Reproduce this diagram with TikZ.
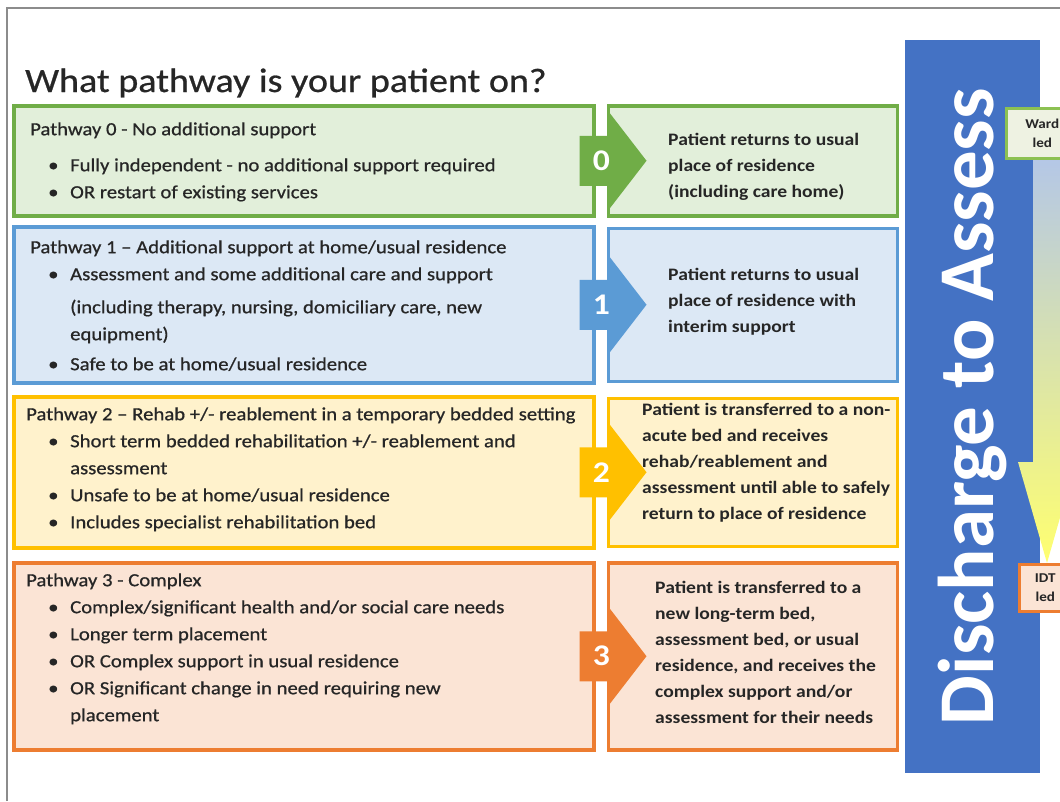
\documentclass[tikz,border=0pt]{standalone}
\usepackage{fontspec}
\setmainfont[FakeStretch=1.12, UprightFeatures={FakeBold=0.7}]{Carlito}
\newfontfamily\dtafont{Carlito}
\usetikzlibrary{positioning, calc}

\definecolor{pgreen}{HTML}{70AD47}
\definecolor{pgreenl}{HTML}{E2EFDA}
\definecolor{pblue}{HTML}{5B9BD5}
\definecolor{pbluel}{HTML}{DCE8F5}
\definecolor{pyellow}{HTML}{FFC000}
\definecolor{pyellowl}{HTML}{FFF2CC}
\definecolor{porange}{HTML}{ED7D31}
\definecolor{porangel}{HTML}{FBE4D5}
\definecolor{dtablue}{HTML}{4472C4}
\definecolor{wardgreen}{HTML}{8CC152}
\definecolor{wardfill}{HTML}{EEF2E2}
\definecolor{gradtop}{HTML}{B4C7E7}
\definecolor{gradbot}{HTML}{FFFF70}
\definecolor{txtgray}{HTML}{262626}
\definecolor{framegray}{HTML}{8C8C8C}

\newcommand{\bul}{\makebox[22pt][l]{\textbullet}}

\begin{document}
\begin{tikzpicture}[
  x=1pt, y=-1pt,
  lbox/.style = {draw, line width=3.5pt, minimum width=580, anchor=north west, inner sep=0pt},
  rbox/.style = {draw, line width=3.5pt, minimum width=289, inner sep=0pt},
  ltxt/.style = {anchor=north west, inner sep=0pt, align=left, text=txtgray,
                 font=\fontsize{18.5}{27}\selectfont},
  rtxt/.style = {anchor=north west, inner sep=0pt, align=left, text=txtgray,
                 font=\fontsize{17.5}{26}\selectfont\bfseries},
  numtxt/.style = {text=white, inner sep=0pt, font=\fontsize{30}{30}\selectfont\bfseries},
  ledbox/.style = {draw, line width=2.5pt, align=center, inner sep=0pt, anchor=north west,
                   text=txtgray, font=\fontsize{13.5}{19}\selectfont\bfseries}
]
\useasboundingbox (0,0) rectangle (1060,801);
\clip (0,0) rectangle (1060,801);

% Frame
\draw[framegray, line width=1.2pt] (7,801) -- (7,8) -- (1060,8);

% Title
\node[anchor=base west, inner sep=0pt, text=txtgray, font=\fontsize{34}{34}\selectfont]
  (title) at (25,92) {What pathway is your patient on?};

% Pathway boxes (left)
\node[lbox, draw=pgreen, fill=pgreenl, minimum height=110] (p0box) at (12,104) {};
\node[lbox, draw=pblue, fill=pbluel, minimum height=156] (p1box) at (12,225) {};
\node[lbox, draw=pyellow, fill=pyellowl, minimum height=151] (p2box) at (12,395) {};
\node[lbox, draw=porange, fill=porangel, minimum height=187] (p3box) at (12,561) {};

% Outcome boxes (right)
\node[rbox, draw=pgreen, fill=pgreenl, minimum height=110, right=11pt of p0box] (p0out) {};
\node[rbox, draw=pblue, fill=pbluel, minimum height=153, right=11pt of p1box] (p1out) {};
\node[rbox, draw=pyellow, fill=pyellowl, minimum height=148, right=11pt of p2box] (p2out) {};
\node[rbox, draw=porange, fill=porangel, minimum height=187, right=11pt of p3box] (p3out) {};

% Numbered arrows
\foreach \b/\c/\n in {p0box/pgreen/0, p1box/pblue/1, p2box/pyellow/2, p3box/porange/3} {
  \fill[\c] ($(\b.east)+(-16,-25)$) -- ($(\b.east)+(14,-25)$) -- ($(\b.east)+(14,-48)$)
    -- ($(\b.east)+(51,0)$) -- ($(\b.east)+(14,48)$) -- ($(\b.east)+(14,25)$)
    -- ($(\b.east)+(-16,25)$) -- cycle;
  \node[numtxt] (num\n) at ($(\b.east)+(6,0)$) {\n};
}

% Pathway texts
\node[ltxt] (p0txt) at (30,122) {\rule{0pt}{13pt}Pathway 0 - No additional support\\[9pt]
  \hspace*{18pt}\bul Fully independent - no additional support required\\
  \hspace*{18pt}\bul OR restart of existing services};
\node[ltxt] (p1txt) at (30,240) {\rule{0pt}{13pt}Pathway 1 -- Additional support at home/usual residence\\
  \hspace*{18pt}\bul Assessment and some additional care and support\\[6pt]
  \hspace*{40pt}(including therapy, nursing, domiciliary care, new\\
  \hspace*{40pt}equipment)\\[3pt]
  \hspace*{18pt}\bul Safe to be at home/usual residence};
\node[ltxt] (p2txt) at (26,407) {\rule{0pt}{13pt}Pathway 2 -- Rehab +/- reablement in a temporary bedded setting\\
  \hspace*{22pt}\bul Short term bedded rehabilitation +/- reablement and\\
  \hspace*{44pt}assessment\\
  \hspace*{22pt}\bul Unsafe to be at home/usual residence\\
  \hspace*{22pt}\bul Includes specialist rehabilitation bed};
\node[ltxt] (p3txt) at (26,573) {\rule{0pt}{13pt}Pathway 3 - Complex\\
  \hspace*{22pt}\bul Complex/significant health and/or social care needs\\
  \hspace*{22pt}\bul Longer term placement\\
  \hspace*{22pt}\bul OR Complex support in usual residence\\
  \hspace*{22pt}\bul OR Significant change in need requiring new\\
  \hspace*{44pt}placement};

% Outcome texts
\node[rtxt] (p0res) at (668,132) {\rule{0pt}{13pt}Patient returns to usual\\
  place of residence\\(including care home)};
\node[rtxt] (p1res) at (668,267) {\rule{0pt}{13pt}Patient returns to usual\\
  place of residence with\\interim support};
\node[rtxt] (p2res) at (642,402) {\rule{0pt}{13pt}Patient is transferred to a non-\\
  acute bed and receives\\rehab/reablement and\\
  assessment until able to safely\\return to place of residence};
\node[rtxt] (p3res) at (655,580) {\rule{0pt}{13pt}Patient is transferred to a\\
  new long-term bed,\\assessment bed, or usual\\residence, and receives the\\
  complex support and/or\\assessment for their needs};

% Discharge to Assess bar
\node[fill=dtablue, rotate=90, minimum width=733, minimum height=135, inner sep=0pt,
  text=white, font=\dtafont\fontsize{79}{79}\selectfont\bfseries]
  (dtabar) at (972.5,406.5) {Discharge to Assess};

% Ward to IDT arrow
\shade[top color=gradtop, bottom color=gradbot] (1033,157) -- (1062,157) -- (1062,462)
  -- (1076,462) -- (1047,563) -- (1018,462) -- (1033,462) -- cycle;
\node[ledbox, draw=wardgreen, fill=wardfill, minimum width=72, minimum height=50]
  (ward) at (1005,107) {Ward\\led};
\node[ledbox, draw=porange, fill=porangel, minimum width=52, minimum height=47]
  (idt) at (1018,563) {IDT\\led};

\end{tikzpicture}
\end{document}
